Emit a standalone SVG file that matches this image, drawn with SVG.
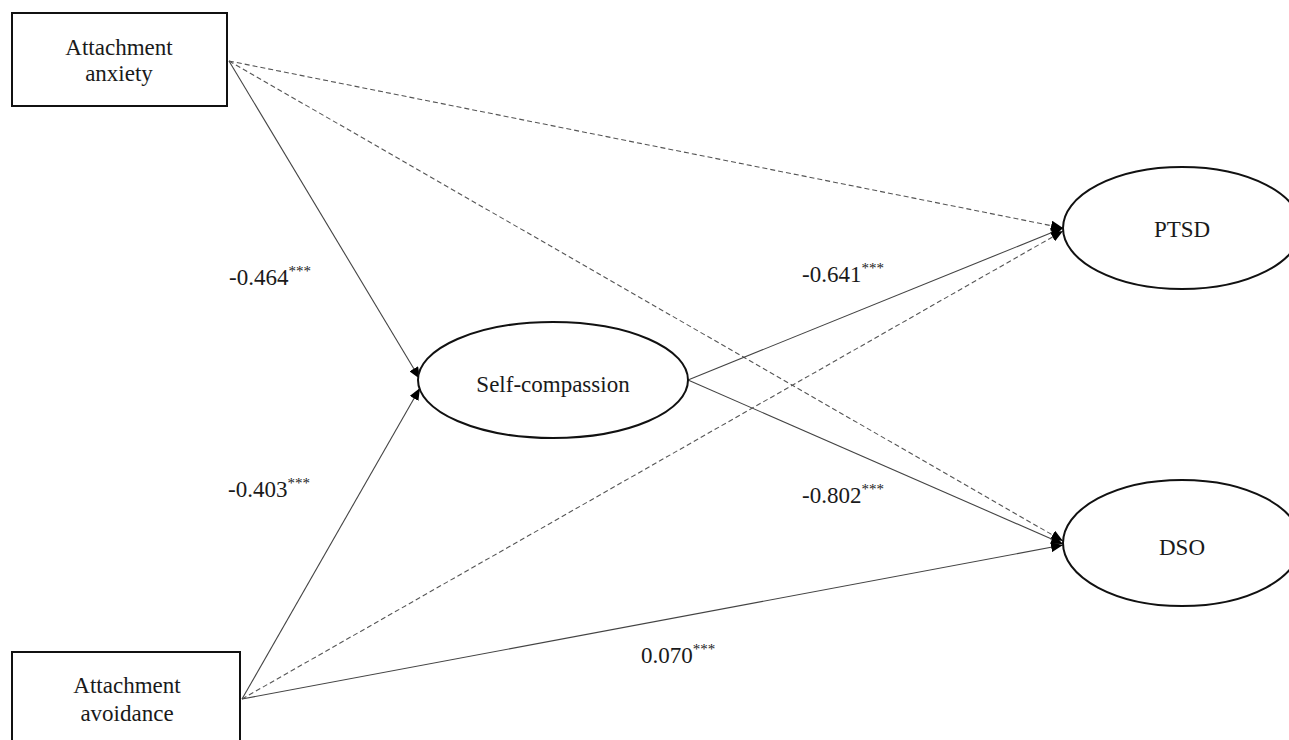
<svg xmlns="http://www.w3.org/2000/svg" width="1289" height="740" viewBox="0 0 1289 740">
<style>
text{font-size:23px;fill:#1a1a1a}
.c{text-anchor:middle}
.sup{font-size:15px}
.box{fill:#fff;stroke:#111;stroke-width:2}
.ell{fill:#fff;stroke:#111;stroke-width:2}
.s{stroke:#444;stroke-width:1.1;fill:none}
.d{stroke:#555;stroke-width:1.1;fill:none;stroke-dasharray:5 3}
</style>
<defs>
<marker id="ah" viewBox="0 0 12 10" refX="12" refY="5" markerWidth="12" markerHeight="10" markerUnits="userSpaceOnUse" orient="auto">
<path d="M0,0 L12,5 L0,10 z" fill="#000"/>
</marker>
</defs>
<rect width="1289" height="740" fill="#fff"/>
<g id="connectors">
<line class="s" x1="229" y1="61" x2="420" y2="379" marker-end="url(#ah)"/>
<line class="s" x1="242" y1="699" x2="420" y2="388" marker-end="url(#ah)"/>
<line class="d" x1="229" y1="61" x2="1063" y2="228" marker-end="url(#ah)"/>
<line class="d" x1="229" y1="61" x2="1063" y2="541" marker-end="url(#ah)"/>
<line class="s" x1="688" y1="380" x2="1063" y2="228" marker-end="url(#ah)"/>
<line class="s" x1="688" y1="380" x2="1063" y2="544" marker-end="url(#ah)"/>
<line class="d" x1="242" y1="699" x2="1063" y2="231" marker-end="url(#ah)"/>
<line class="s" x1="242" y1="699" x2="1063" y2="545" marker-end="url(#ah)"/>
</g>
<g font-family="'Liberation Serif', 'DejaVu Serif', serif">
<g id="anxiety">
<rect class="box" x="12" y="13" width="215" height="93"/>
<text class="c" x="119" y="55">Attachment</text>
<text class="c" x="119" y="81">anxiety</text>
</g>
<g id="avoidance">
<rect class="box" x="12" y="652" width="228" height="100"/>
<text class="c" x="127" y="693">Attachment</text>
<text class="c" x="127" y="721">avoidance</text>
</g>
<g id="selfcompassion">
<ellipse class="ell" cx="553" cy="380" rx="135" ry="58"/>
<text class="c" x="553" y="392">Self-compassion</text>
</g>
<g id="ptsd">
<ellipse class="ell" cx="1182" cy="228" rx="119" ry="61"/>
<text class="c" x="1182" y="237">PTSD</text>
</g>
<g id="dso">
<ellipse class="ell" cx="1182" cy="543" rx="119" ry="63"/>
<text class="c" x="1182" y="555">DSO</text>
</g>
<g id="labels">
<text x="229" y="285">-0.464<tspan class="sup" dy="-9">***</tspan></text>
<text x="228" y="497">-0.403<tspan class="sup" dy="-9">***</tspan></text>
<text x="802" y="282">-0.641<tspan class="sup" dy="-9">***</tspan></text>
<text x="802" y="503">-0.802<tspan class="sup" dy="-9">***</tspan></text>
<text x="641" y="663">0.070<tspan class="sup" dy="-9">***</tspan></text>
</g>
</g>
</svg>
